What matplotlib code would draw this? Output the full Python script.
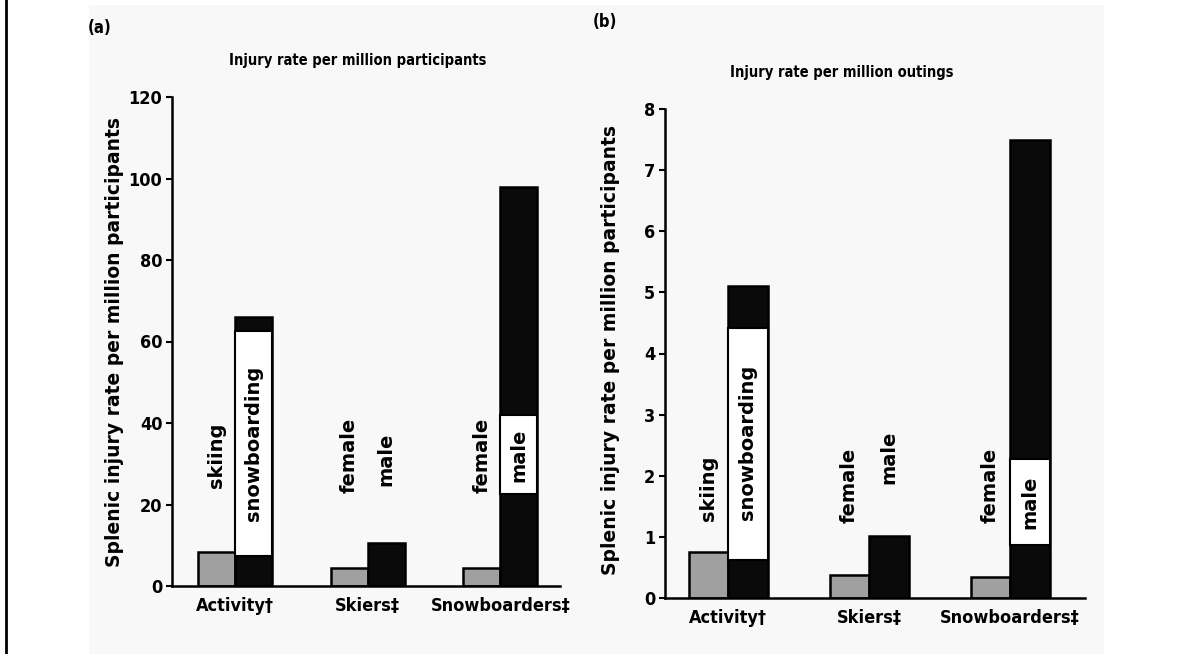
import numpy as np
import matplotlib.pyplot as plt
from matplotlib.patches import Rectangle
from matplotlib.lines import Line2D

# groups on the x axis
groups = ['Activity†', 'Skiers‡', 'Snowboarders‡']
left_labels = ['skiing', 'female', 'female']
right_labels = ['snowboarding', 'male', 'male']

# (a) injury rate per million participants
part_left = [8.4, 4.3, 4.3]
part_right = [66, 10.6, 98]
# white label boxes drawn over the black bars (bottom, top); None = no box
part_boxes = [(7.4, 62.5), None, (22.5, 42)]

# (b) injury rate per million outings
out_left = [0.75, 0.38, 0.35]
out_right = [5.1, 1.02, 7.5]
out_boxes = [(0.62, 4.42), None, (0.87, 2.27)]

W, H = 1182, 654
fig = plt.figure(figsize=(W / 100, H / 100), dpi=100)
fig.patch.set_facecolor('white')

narrow = dict(family='DejaVu Sans', fontstretch='condensed', fontweight='bold')
wide = dict(family='DejaVu Sans', fontweight='bold')

# light grey panel and left border line
fig.add_artist(Rectangle((89 / W, 0), (1104 - 89) / W, 1 - 5 / H,
                         transform=fig.transFigure, facecolor='#f8f8f8',
                         edgecolor='none', zorder=-10))
fig.add_artist(Line2D([6 / W, 6 / W], [0, 1], transform=fig.transFigure,
                      color='black', lw=2))

GREY = '#a0a0a0'
BLACK = '#0a0a0a'
bw = 0.28


def draw_panel(ax, left, right, boxes, ymax, yticks, xlim, lab_y):
    x = np.arange(len(groups))
    ax.bar(x - bw / 2, left, bw, color=GREY, edgecolor='black', lw=1.8, zorder=2)
    ax.bar(x + bw / 2, right, bw, color=BLACK, edgecolor='black', lw=1.8, zorder=2)
    for i, b in enumerate(boxes):
        if b is None:
            continue
        ax.add_patch(Rectangle((x[i], b[0]), bw, b[1] - b[0], facecolor='white',
                               edgecolor='black', lw=1.5, zorder=3))
    for i in range(len(groups)):
        ax.text(x[i] - bw / 2, lab_y[0][i], left_labels[i], rotation=90,
                ha='center', va='center', fontsize=14, zorder=4, **wide)
        ax.text(x[i] + bw / 2, lab_y[1][i], right_labels[i], rotation=90,
                ha='center', va='center', fontsize=14, zorder=4, **wide)
    ax.set_xlim(*xlim)
    ax.set_ylim(0, ymax)
    ax.set_yticks(yticks)
    ax.set_yticklabels([str(t) for t in yticks], fontsize=13, **narrow)
    ax.set_xticks(x)
    ax.set_xticklabels(groups, fontsize=13, **narrow)
    ax.tick_params(axis='x', length=0, pad=8)
    ax.tick_params(axis='y', length=4, width=1.5, pad=3)
    for s in ['top', 'right']:
        ax.spines[s].set_visible(False)
    for s in ['left', 'bottom']:
        ax.spines[s].set_linewidth(1.8)
    ax.patch.set_alpha(0)


ax1 = fig.add_axes([172 / W, 1 - 586 / H, (560 - 172) / W, (586 - 97) / H])
draw_panel(ax1, part_left, part_right, part_boxes, 120, list(range(0, 121, 20)),
           (-0.475, 2.45), ([32, 32, 32], [35, 31, 32]))

ax2 = fig.add_axes([665 / W, 1 - 598 / H, (1085 - 665) / W, (598 - 109) / H])
draw_panel(ax2, out_left, out_right, out_boxes, 8, list(range(0, 9)),
           (-0.447, 2.53), ([1.8, 1.85, 1.85], [2.55, 2.3, 1.57]))

# panel letters, titles and y labels
fig.text(100 / W, 1 - 28 / H, '(a)', ha='center', va='center', fontsize=12,
         **narrow)
fig.text(605 / W, 1 - 22 / H, '(b)', ha='center', va='center', fontsize=12,
         **narrow)
fig.text(358 / W, 1 - 60 / H, 'Injury rate per million participants',
         ha='center', va='center', fontsize=10.5, **narrow)
fig.text(842 / W, 1 - 72 / H, 'Injury rate per million outings',
         ha='center', va='center', fontsize=10.5, **narrow)
fig.text(115 / W, 1 - 342 / H, 'Splenic injury rate per million participants',
         rotation=90, ha='center', va='center', fontsize=13.5, **wide)
fig.text(610 / W, 1 - 350 / H, 'Splenic injury rate per million participants',
         rotation=90, ha='center', va='center', fontsize=13.5, **wide)

fig.savefig('out.png', dpi=100)
